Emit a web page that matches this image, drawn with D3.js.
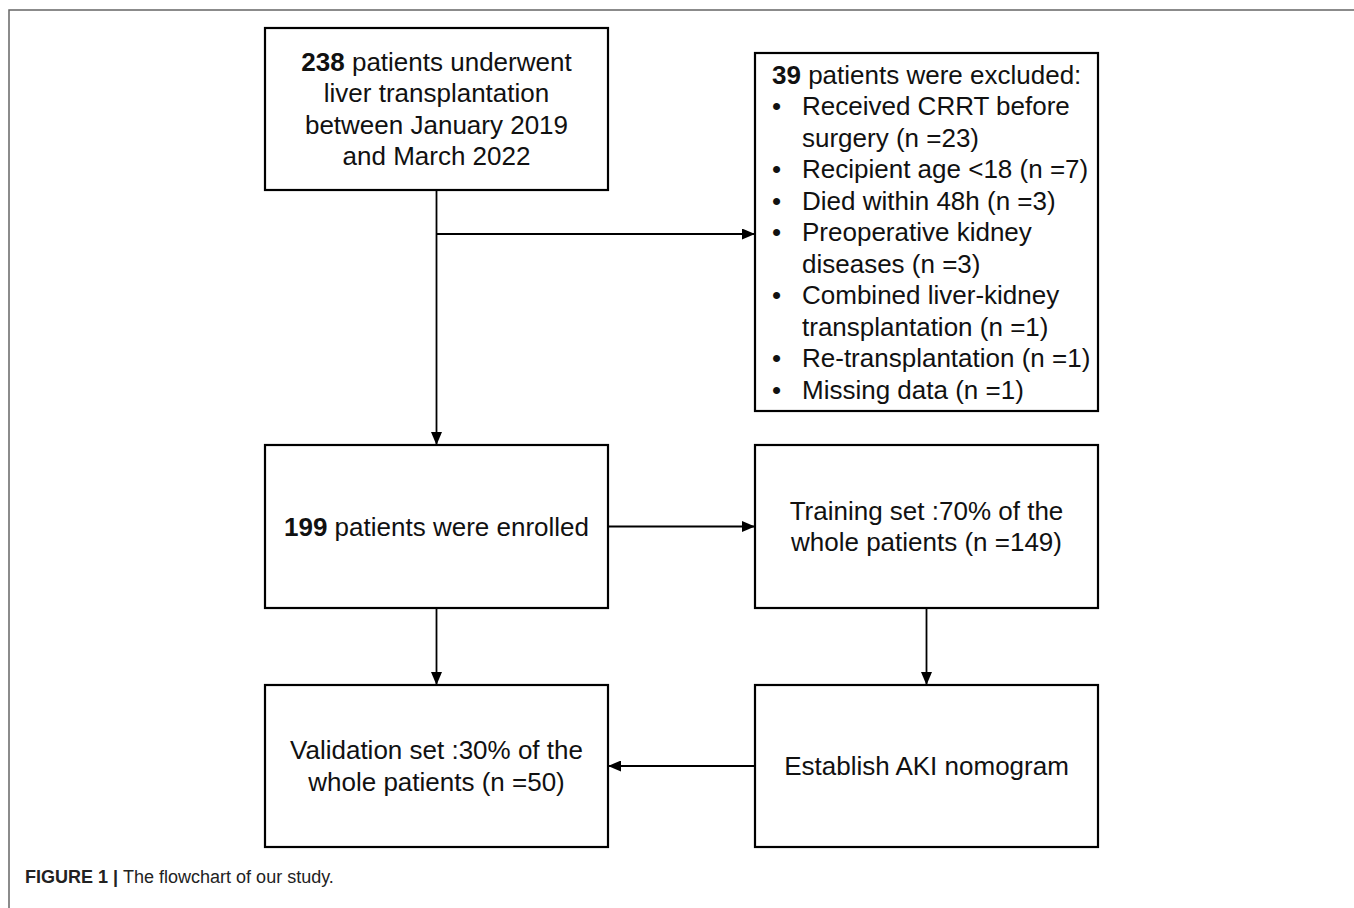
<!DOCTYPE html>
<html>
<head>
<meta charset="utf-8">
<script src="https://cdn.jsdelivr.net/npm/d3@7"></script>
<style>
  body { margin: 0; background: #fff; }
  svg { display: block; font-family: "Liberation Sans", Arial, sans-serif; }
</style>
</head>
<body>
<div id="chart"></div>
<script>
// Counts shown in the flowchart
const totalPatients = 238;
const excludedPatients = 39;
const enrolledPatients = 199;
const trainingPatients = 149;
const validationPatients = 50;
const splitShares = ["70%", "30%"];

// Exclusion reasons (already wrapped the way they appear) and their counts
const exclusionReasons = [
  ["Received CRRT before", "surgery"],
  ["Recipient age <18"],
  ["Died within 48h"],
  ["Preoperative kidney", "diseases"],
  ["Combined liver-kidney", "transplantation"],
  ["Re-transplantation"],
  ["Missing data"],
];
const exclusionCounts = [23, 7, 3, 3, 1, 1, 1];

// Boxes: each line is a list of [text, bold?] pieces
const nodes = [
  { id: "start", col: "left", lines: [
      [[String(totalPatients), true], [" patients underwent", false]],
      [["liver transplantation", false]],
      [["between January 2019", false]],
      [["and March 2022", false]]] },
  { id: "enrolled", col: "left", lines: [
      [[String(enrolledPatients), true], [" patients were enrolled", false]]] },
  { id: "training", col: "right", lines: [
      [[`Training set :${splitShares[0]} of the`, false]],
      [[`whole patients (n =${trainingPatients})`, false]]] },
  { id: "validation", col: "left", lines: [
      [[`Validation set :${splitShares[1]} of the`, false]],
      [[`whole patients (n =${validationPatients})`, false]]] },
  { id: "nomogram", col: "right", lines: [
      [["Establish AKI nomogram", false]]] },
];

// Vertical extent of each box
const boxRows = {
  start: [28, 190],
  excluded: [53, 411],
  enrolled: [445, 608],
  training: [445, 608],
  validation: [685, 847],
  nomogram: [685, 847],
};

const width = 1354;
const height = 908;
const fontSize = 26;
const lineHeight = 31.5;

const x = d3.scaleBand()
  .domain(["left", "right"])
  .range([265, 1098])
  .paddingInner(0.3);

const svg = d3.select("#chart")
  .append("svg")
  .attr("width", width)
  .attr("height", height);

// Arrow head
svg.append("defs")
  .append("marker")
  .attr("id", "arrow")
  .attr("viewBox", "0 0 13 11")
  .attr("refX", 13)
  .attr("refY", 5.5)
  .attr("markerWidth", 13)
  .attr("markerHeight", 11)
  .attr("markerUnits", "userSpaceOnUse")
  .attr("orient", "auto")
  .append("path")
  .attr("d", "M0,0 L13,5.5 L0,11 Z")
  .attr("fill", "#000");

// Figure frame (top and left rule)
svg.append("path")
  .attr("d", `M9,${height} L9,10 L${width},10`)
  .attr("fill", "none")
  .attr("stroke", "#666")
  .attr("stroke-width", 1.5);

const midX = (col) => x(col) + x.bandwidth() / 2;
const midY = (id) => (boxRows[id][0] + boxRows[id][1]) / 2;

// Connectors
const links = [
  { path: [[midX("left"), boxRows.start[1]], [midX("left"), boxRows.enrolled[0]]], arrow: true },
  { path: [[midX("left"), 234], [x("right"), 234]], arrow: true },
  { path: [[x("left") + x.bandwidth(), midY("enrolled")], [x("right"), midY("enrolled")]], arrow: true },
  { path: [[midX("left"), boxRows.enrolled[1]], [midX("left"), boxRows.validation[0]]], arrow: true },
  { path: [[midX("right"), boxRows.training[1]], [midX("right"), boxRows.nomogram[0]]], arrow: true },
  { path: [[x("right"), midY("nomogram")], [x("left") + x.bandwidth(), midY("nomogram")]], arrow: true },
];

svg.selectAll("path.link")
  .data(links)
  .enter()
  .append("path")
  .attr("class", "link")
  .attr("d", (d) => d3.line()(d.path))
  .attr("fill", "none")
  .attr("stroke", "#000")
  .attr("stroke-width", 1.8)
  .attr("marker-end", (d) => (d.arrow ? "url(#arrow)" : null));

// Main boxes
const boxes = svg.selectAll("g.node")
  .data(nodes)
  .enter()
  .append("g")
  .attr("class", "node");

boxes.append("rect")
  .attr("x", (d) => x(d.col))
  .attr("y", (d) => boxRows[d.id][0])
  .attr("width", x.bandwidth())
  .attr("height", (d) => boxRows[d.id][1] - boxRows[d.id][0])
  .attr("fill", "#fff")
  .attr("stroke", "#000")
  .attr("stroke-width", 2.2);

boxes.each(function (d) {
  const g = d3.select(this);
  const cy = midY(d.id);
  const first = cy - ((d.lines.length - 1) * lineHeight) / 2;
  d.lines.forEach((parts, i) => {
    const t = g.append("text")
      .attr("x", midX(d.col))
      .attr("y", first + i * lineHeight)
      .attr("dy", "0.35em")
      .attr("text-anchor", "middle")
      .attr("font-size", fontSize)
      .attr("fill", "#111");
    parts.forEach(([s, bold]) => {
      t.append("tspan")
        .attr("font-weight", bold ? "bold" : "normal")
        .text(s);
    });
  });
});

// Exclusion box
const exclLines = [{ bullet: false, parts: [[String(excludedPatients), true], [" patients were excluded:", false]] }];
exclusionReasons.forEach((lines, i) => {
  lines.forEach((s, j) => {
    const last = j === lines.length - 1;
    exclLines.push({
      bullet: j === 0,
      indent: true,
      parts: [[last ? `${s} (n =${exclusionCounts[i]})` : s, false]],
    });
  });
});

const excl = svg.append("g").attr("class", "excluded");
excl.append("rect")
  .attr("x", x("right"))
  .attr("y", boxRows.excluded[0])
  .attr("width", x.bandwidth())
  .attr("height", boxRows.excluded[1] - boxRows.excluded[0])
  .attr("fill", "#fff")
  .attr("stroke", "#000")
  .attr("stroke-width", 2.2);

const exclFirst = midY("excluded") - ((exclLines.length - 1) * lineHeight) / 2;
exclLines.forEach((line, i) => {
  const y = exclFirst + i * lineHeight;
  if (line.bullet) {
    excl.append("text")
      .attr("x", x("right") + 17)
      .attr("y", y)
      .attr("dy", "0.35em")
      .attr("font-size", fontSize)
      .attr("fill", "#111")
      .text("\u2022");
  }
  const t = excl.append("text")
    .attr("x", x("right") + (line.indent ? 47 : 17))
    .attr("y", y)
    .attr("dy", "0.35em")
    .attr("font-size", fontSize)
    .attr("fill", "#111");
  line.parts.forEach(([s, bold]) => {
    t.append("tspan")
      .attr("font-weight", bold ? "bold" : "normal")
      .text(s);
  });
});

// Caption
const cap = svg.append("text")
  .attr("x", 25)
  .attr("y", 883)
  .attr("font-size", 18)
  .attr("fill", "#222");
cap.append("tspan").attr("font-weight", "bold").text("FIGURE 1 | ");
cap.append("tspan").text("The flowchart of our study.");
</script>
</body>
</html>
